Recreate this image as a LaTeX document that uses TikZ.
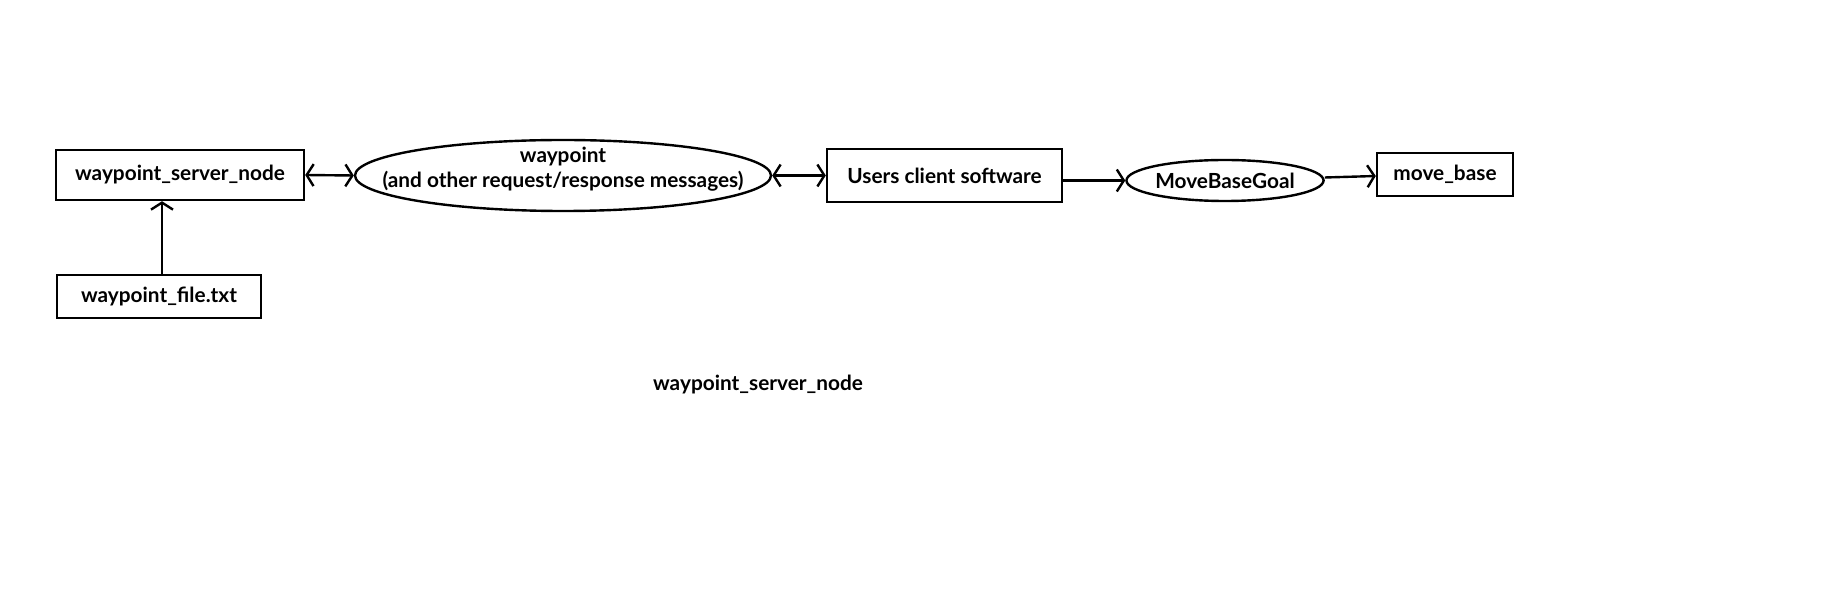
\documentclass[tikz,border=0pt]{standalone}
\usepackage{fontspec}
\setmainfont{Lato}
\usetikzlibrary{arrows.meta}
\usetikzlibrary{shapes.geometric}

\begin{document}
\begin{tikzpicture}[x=0.5pt, y=-0.5pt,
  every node/.style={font=\fontsize{10.4}{12.5}\selectfont\bfseries},
  box/.style={draw, line width=1.2pt, inner sep=0pt},
  msg/.style={draw, ellipse, line width=1.2pt, inner sep=0pt},
  tip/.style={line width=1.2pt, -{Straight Barb[length=3.5pt, width=11pt, line width=1.2pt]}},
  dtip/.style={line width=1.2pt, {Straight Barb[length=3.5pt, width=11pt, line width=1.2pt]}-{Straight Barb[length=3.5pt, width=11pt, line width=1.2pt]}}]
\useasboundingbox (0,0) rectangle (1847,598);
\node[box, minimum width=124pt, minimum height=25pt] (server) at (180,175) {waypoint\_server\_node};
\node[box, minimum width=102pt, minimum height=21.5pt] (file) at (159,296.5) {waypoint\_file.txt};
\node[msg, minimum width=208pt, minimum height=35.5pt] (wp) at (563,175.5) {};
\node[align=center] (wptext) at (563,169) {waypoint\\(and other request/response messages)};
\node[box, minimum width=117.5pt, minimum height=26.5pt] (client) at (944.5,175.5) {Users client software};
\node[msg, minimum width=98pt, minimum height=20.5pt] (goal) at (1225,180.5) {MoveBaseGoal};
\node[box, minimum width=68pt, minimum height=21.5pt] (base) at (1445,174.5) {move\_base};
\node (caption) at (758,385) {waypoint\_server\_node};
\draw[tip] ([xshift=1.5pt]file.north) -- ([xshift=1.5pt]file.north |- server.south);
\draw[dtip] (server.east) -- (wp.west);
\draw[dtip] (wp.east) -- (client.west);
\draw[tip] (client.east |- goal.west) -- (goal.west);
\draw[tip] ([yshift=1.5pt]goal.east) -- ([yshift=-0.75pt]base.west);
\end{tikzpicture}
\end{document}
